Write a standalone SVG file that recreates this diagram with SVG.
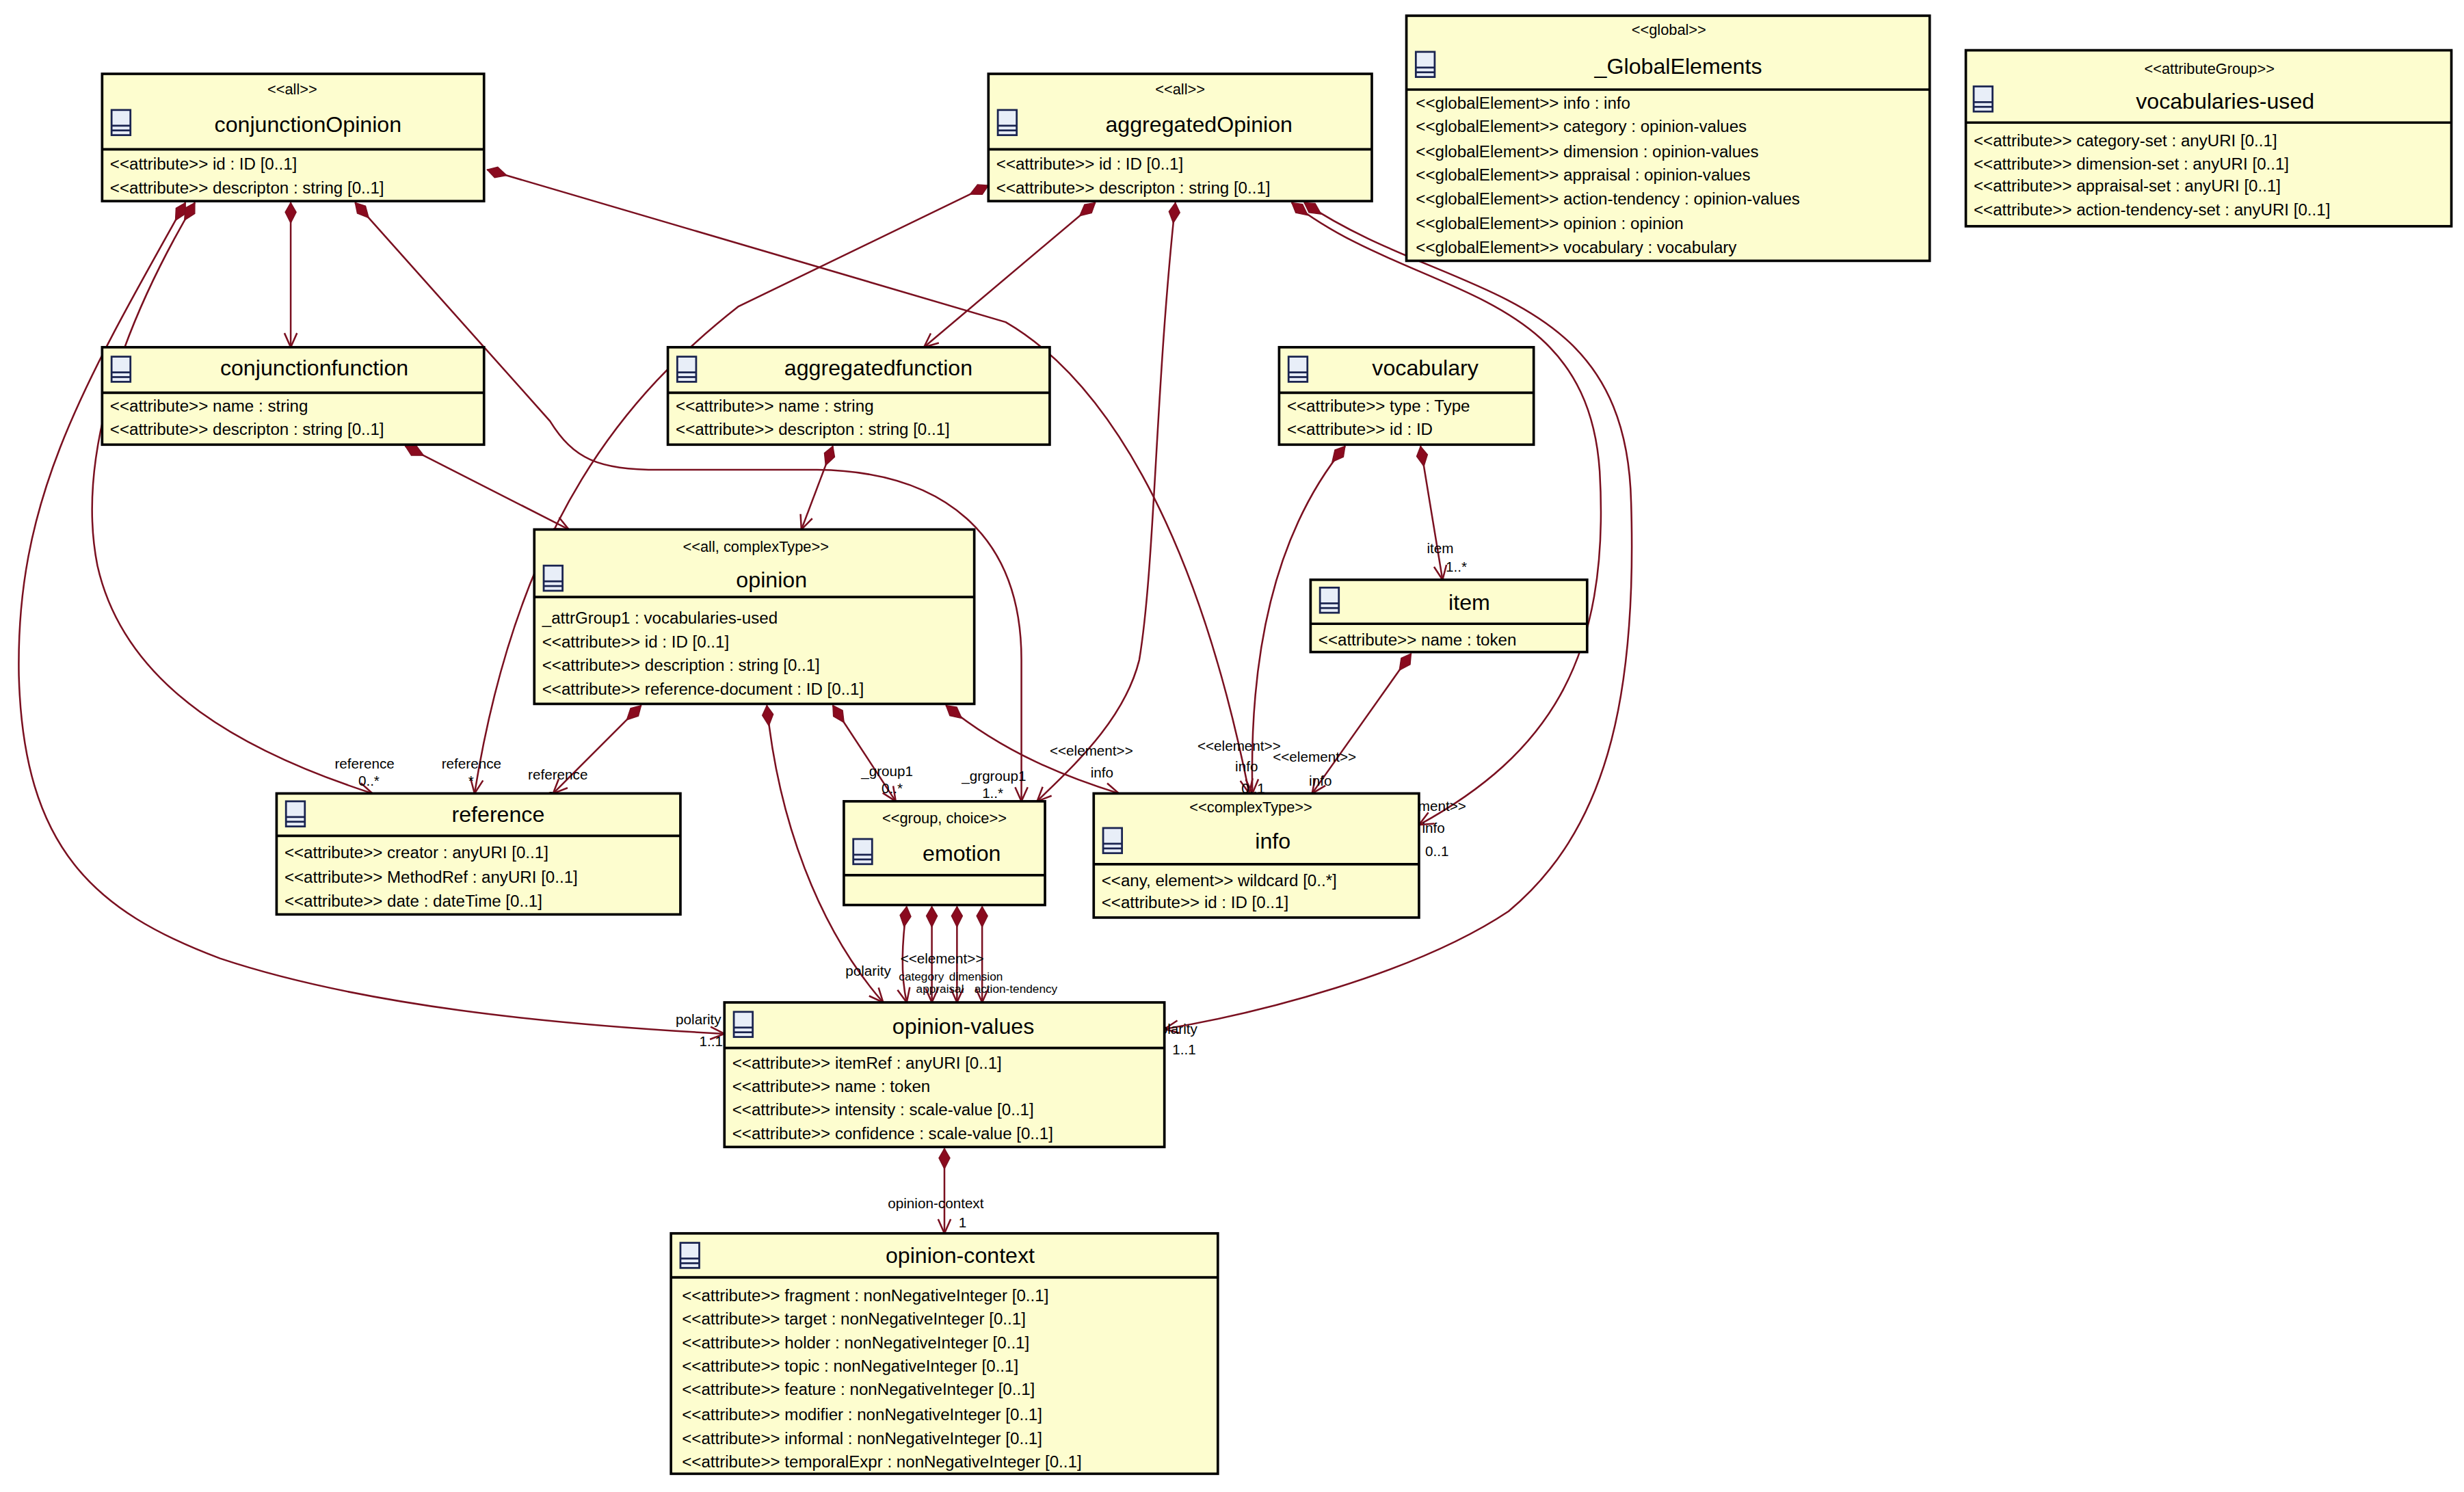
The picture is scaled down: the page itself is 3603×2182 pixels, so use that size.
<svg xmlns="http://www.w3.org/2000/svg" width="3603" height="2182" viewBox="0 0 3603 2182">
<defs>
<style>
.b{fill:#fdfdcf;stroke:#000;stroke-width:1.6}
.d{stroke:#000;stroke-width:1.6}
.ic{fill:#e8eef8;stroke:#1a2450;stroke-width:1.2}
text{font-family:"Liberation Sans",Arial,sans-serif;fill:#000}
.st{font-size:9.5px;text-anchor:middle}
.nm{font-size:14px;text-anchor:middle}
.at{font-size:10.5px}
.lb{font-size:9px}
.sm{font-size:7.5px}
.c{fill:none;stroke:#7a1020;stroke-width:1.1}
</style>
<marker id="dia" markerWidth="16" markerHeight="10" refX="1" refY="5" orient="auto" markerUnits="userSpaceOnUse"><path d="M1,5 L7,1.5 L14,5 L7,8.5 Z" fill="#8a0a1e" stroke="#7a1020" stroke-width="0.6"/></marker>
<marker id="arr" markerWidth="12" markerHeight="10" refX="10" refY="5" orient="auto" markerUnits="userSpaceOnUse"><path d="M1,1 L10,5 L1,9" fill="none" stroke="#7a1020" stroke-width="1.1"/></marker>
<g id="icon"><rect class="ic" x="0" y="0" width="12" height="16"/><line x1="0" y1="10" x2="12" y2="10" stroke="#1a2450" stroke-width="1.2"/><line x1="0" y1="13" x2="12" y2="13" stroke="#1a2450" stroke-width="1.2"/></g>
</defs>
<rect width="3603" height="2182" fill="#fff"/>
<g transform="scale(2.2978)">
<g id="connectors">
<path class="c" marker-start="url(#dia)" marker-end="url(#arr)" d="M185,129 L185,221"/>
<path class="c" marker-start="url(#dia)" marker-end="url(#arr)" d="M258,284 L362,337"/>
<path class="c" marker-start="url(#dia)" marker-end="url(#arr)" d="M697,129 L588,221"/>
<path class="c" marker-start="url(#dia)" marker-end="url(#arr)" d="M530,284 L510,337"/>
<path class="c" marker-start="url(#dia)" marker-end="url(#arr)" d="M118,129 C50,250 10,320 12,430 C15,540 60,580 140,610 C230,640 350,652 461,658"/>
<path class="c" marker-start="url(#dia)" marker-end="url(#arr)" d="M124,129 C70,220 50,300 62,360 C80,440 160,480 237,505"/>
<path class="c" marker-start="url(#dia)" marker-end="url(#arr)" d="M226,129 L350,268 C365,292 380,299 420,299 L520,299 C600,300 650,340 650,420 L650,510"/>
<path class="c" marker-start="url(#dia)" marker-end="url(#arr)" d="M310,108 L640,205 C700,240 760,330 795,505"/>
<path class="c" marker-start="url(#dia)" marker-end="url(#arr)" d="M629,118 L470,195 C400,250 330,330 302,505"/>
<path class="c" marker-start="url(#dia)" marker-end="url(#arr)" d="M748,129 C735,250 735,360 725,420 C715,460 680,490 660,510"/>
<path class="c" marker-start="url(#dia)" marker-end="url(#arr)" d="M822,129 C900,190 1010,180 1018,300 C1025,420 985,480 903,525"/>
<path class="c" marker-start="url(#dia)" marker-end="url(#arr)" d="M830,129 C920,190 1035,180 1038,320 C1042,450 1020,530 960,580 C900,620 800,645 741,655"/>
<path class="c" marker-start="url(#dia)" marker-end="url(#arr)" d="M904,284 L918,369"/>
<path class="c" marker-start="url(#dia)" marker-end="url(#arr)" d="M856,284 C810,340 795,420 797,505"/>
<path class="c" marker-start="url(#dia)" marker-end="url(#arr)" d="M898,416 L835,505"/>
<path class="c" marker-start="url(#dia)" marker-end="url(#arr)" d="M408,449 L352,505"/>
<path class="c" marker-start="url(#dia)" marker-end="url(#arr)" d="M488,449 C495,520 520,590 562,638"/>
<path class="c" marker-start="url(#dia)" marker-end="url(#arr)" d="M530,449 L570,510"/>
<path class="c" marker-start="url(#dia)" marker-end="url(#arr)" d="M602,449 C640,480 680,495 712,505"/>
<path class="c" marker-start="url(#dia)" marker-end="url(#arr)" d="M577,577 C574,600 573,620 577,638"/>
<path class="c" marker-start="url(#dia)" marker-end="url(#arr)" d="M593,577 L593,638"/>
<path class="c" marker-start="url(#dia)" marker-end="url(#arr)" d="M609,577 L609,638"/>
<path class="c" marker-start="url(#dia)" marker-end="url(#arr)" d="M625,577 L625,638"/>
<path class="c" marker-start="url(#dia)" marker-end="url(#arr)" d="M601,731 L601,785"/>
<g class="lb">
<text x="213" y="489">reference</text><text x="228" y="500">0..*</text>
<text x="281" y="489">reference</text><text x="298" y="500">*</text>
<text x="336" y="496">reference</text><text x="348" y="510">0..</text>
<text x="548" y="494">_group1</text><text x="561" y="505">0..*</text>
<text x="612" y="497">_grgroup1</text><text x="625" y="508">1..*</text>
<text x="668" y="481">&lt;&lt;element&gt;&gt;</text><text x="694" y="495">info</text><text x="697" y="512">0..1</text>
<text x="762" y="478">&lt;&lt;element&gt;&gt;</text><text x="786" y="491">info</text><text x="790" y="505">0..1</text>
<text x="810" y="485">&lt;&lt;element&gt;&gt;</text><text x="833" y="500">info</text>
<text x="880" y="516">&lt;&lt;element&gt;&gt;</text><text x="905" y="530">info</text><text x="907" y="545">0..1</text>
<text x="908" y="352">item</text><text x="920" y="364">1..*</text>
<text x="573" y="613">&lt;&lt;element&gt;&gt;</text>
<text x="538" y="621">polarity</text>
<text x="430" y="652">polarity</text><text x="445" y="666">1..1</text>
<text x="733" y="658">polarity</text><text x="746" y="671">1..1</text>
<text x="565" y="769">opinion-context</text><text x="610" y="781">1</text>
</g>
<g class="sm">
<text x="572" y="624">category</text><text x="604" y="624">dimension</text><text x="583" y="632">appraisal</text><text x="620" y="632">action-tendency</text>
<text x="574" y="646">1..1</text><text x="590" y="646">1..1</text><text x="606" y="646">1..1</text><text x="622" y="646">1..1</text>
</g>
</g>

<g id="conjunctionOpinion"><rect class="b" x="65" y="47" width="243" height="81"/><line class="d" x1="65" y1="95" x2="308" y2="95"/><use href="#icon" x="71" y="70"/><text class="st" x="186" y="60">&lt;&lt;all&gt;&gt;</text><text class="nm" x="196" y="84">conjunctionOpinion</text><text class="at" x="70" y="108">&lt;&lt;attribute&gt;&gt; id : ID [0..1]</text><text class="at" x="70" y="123">&lt;&lt;attribute&gt;&gt; descripton : string [0..1]</text></g>
<g id="aggregatedOpinion"><rect class="b" x="629" y="47" width="244" height="81"/><line class="d" x1="629" y1="95" x2="873" y2="95"/><use href="#icon" x="635" y="70"/><text class="st" x="751" y="60">&lt;&lt;all&gt;&gt;</text><text class="nm" x="763" y="84">aggregatedOpinion</text><text class="at" x="634" y="108">&lt;&lt;attribute&gt;&gt; id : ID [0..1]</text><text class="at" x="634" y="123">&lt;&lt;attribute&gt;&gt; descripton : string [0..1]</text></g>
<g id="GlobalElements"><rect class="b" x="895" y="10" width="333" height="156"/><line class="d" x1="895" y1="57" x2="1228" y2="57"/><use href="#icon" x="901" y="33"/><text class="st" x="1062" y="22">&lt;&lt;global&gt;&gt;</text><text class="nm" x="1068" y="47">_GlobalElements</text>
<text class="at" x="901" y="69">&lt;&lt;globalElement&gt;&gt; info : info</text><text class="at" x="901" y="84">&lt;&lt;globalElement&gt;&gt; category : opinion-values</text><text class="at" x="901" y="100">&lt;&lt;globalElement&gt;&gt; dimension : opinion-values</text><text class="at" x="901" y="115">&lt;&lt;globalElement&gt;&gt; appraisal : opinion-values</text><text class="at" x="901" y="130">&lt;&lt;globalElement&gt;&gt; action-tendency : opinion-values</text><text class="at" x="901" y="146">&lt;&lt;globalElement&gt;&gt; opinion : opinion</text><text class="at" x="901" y="161">&lt;&lt;globalElement&gt;&gt; vocabulary : vocabulary</text></g>
<g id="vocabularies-used"><rect class="b" x="1251" y="32" width="309" height="112"/><line class="d" x1="1251" y1="78" x2="1560" y2="78"/><use href="#icon" x="1256" y="55"/><text class="st" x="1406" y="47">&lt;&lt;attributeGroup&gt;&gt;</text><text class="nm" x="1416" y="69">vocabularies-used</text>
<text class="at" x="1256" y="93">&lt;&lt;attribute&gt;&gt; category-set : anyURI [0..1]</text><text class="at" x="1256" y="108">&lt;&lt;attribute&gt;&gt; dimension-set : anyURI [0..1]</text><text class="at" x="1256" y="122">&lt;&lt;attribute&gt;&gt; appraisal-set : anyURI [0..1]</text><text class="at" x="1256" y="137">&lt;&lt;attribute&gt;&gt; action-tendency-set : anyURI [0..1]</text></g>
<g id="conjunctionfunction"><rect class="b" x="65" y="221" width="243" height="62"/><line class="d" x1="65" y1="250" x2="308" y2="250"/><use href="#icon" x="71" y="227"/><text class="nm" x="200" y="239">conjunctionfunction</text><text class="at" x="70" y="262">&lt;&lt;attribute&gt;&gt; name : string</text><text class="at" x="70" y="277">&lt;&lt;attribute&gt;&gt; descripton : string [0..1]</text></g>
<g id="aggregatedfunction"><rect class="b" x="425" y="221" width="243" height="62"/><line class="d" x1="425" y1="250" x2="668" y2="250"/><use href="#icon" x="431" y="227"/><text class="nm" x="559" y="239">aggregatedfunction</text><text class="at" x="430" y="262">&lt;&lt;attribute&gt;&gt; name : string</text><text class="at" x="430" y="277">&lt;&lt;attribute&gt;&gt; descripton : string [0..1]</text></g>
<g id="vocabulary"><rect class="b" x="814" y="221" width="162" height="62"/><line class="d" x1="814" y1="250" x2="976" y2="250"/><use href="#icon" x="820" y="227"/><text class="nm" x="907" y="239">vocabulary</text><text class="at" x="819" y="262">&lt;&lt;attribute&gt;&gt; type : Type</text><text class="at" x="819" y="277">&lt;&lt;attribute&gt;&gt; id : ID</text></g>
<g id="opinion"><rect class="b" x="340" y="337" width="280" height="111"/><line class="d" x1="340" y1="380" x2="620" y2="380"/><use href="#icon" x="346" y="360"/><text class="st" x="481" y="351">&lt;&lt;all, complexType&gt;&gt;</text><text class="nm" x="491" y="374">opinion</text>
<text class="at" x="345" y="397">_attrGroup1 : vocabularies-used</text><text class="at" x="345" y="412">&lt;&lt;attribute&gt;&gt; id : ID [0..1]</text><text class="at" x="345" y="427">&lt;&lt;attribute&gt;&gt; description : string [0..1]</text><text class="at" x="345" y="442">&lt;&lt;attribute&gt;&gt; reference-document : ID [0..1]</text></g>
<g id="item"><rect class="b" x="834" y="369" width="176" height="46"/><line class="d" x1="834" y1="397" x2="1010" y2="397"/><use href="#icon" x="840" y="374"/><text class="nm" x="935" y="388">item</text><text class="at" x="839" y="411">&lt;&lt;attribute&gt;&gt; name : token</text></g>
<g id="reference"><rect class="b" x="176" y="505" width="257" height="77"/><line class="d" x1="176" y1="532" x2="433" y2="532"/><use href="#icon" x="182" y="510"/><text class="nm" x="317" y="523">reference</text><text class="at" x="181" y="546">&lt;&lt;attribute&gt;&gt; creator : anyURI [0..1]</text><text class="at" x="181" y="562">&lt;&lt;attribute&gt;&gt; MethodRef : anyURI [0..1]</text><text class="at" x="181" y="577">&lt;&lt;attribute&gt;&gt; date : dateTime [0..1]</text></g>
<g id="emotion"><rect class="b" x="537" y="510" width="128" height="66"/><line class="d" x1="537" y1="557" x2="665" y2="557"/><use href="#icon" x="543" y="534"/><text class="st" x="601" y="524">&lt;&lt;group, choice&gt;&gt;</text><text class="nm" x="612" y="548">emotion</text></g>
<g id="info"><rect class="b" x="696" y="505" width="207" height="79"/><line class="d" x1="696" y1="550" x2="903" y2="550"/><use href="#icon" x="702" y="527"/><text class="st" x="796" y="517">&lt;&lt;complexType&gt;&gt;</text><text class="nm" x="810" y="540">info</text><text class="at" x="701" y="564">&lt;&lt;any, element&gt;&gt; wildcard [0..*]</text><text class="at" x="701" y="578">&lt;&lt;attribute&gt;&gt; id : ID [0..1]</text></g>
<g id="opinion-values"><rect class="b" x="461" y="638" width="280" height="92"/><line class="d" x1="461" y1="667" x2="741" y2="667"/><use href="#icon" x="467" y="644"/><text class="nm" x="613" y="658">opinion-values</text>
<text class="at" x="466" y="680">&lt;&lt;attribute&gt;&gt; itemRef : anyURI [0..1]</text><text class="at" x="466" y="695">&lt;&lt;attribute&gt;&gt; name : token</text><text class="at" x="466" y="710">&lt;&lt;attribute&gt;&gt; intensity : scale-value [0..1]</text><text class="at" x="466" y="725">&lt;&lt;attribute&gt;&gt; confidence : scale-value [0..1]</text></g>
<g id="opinion-context"><rect class="b" x="427" y="785" width="348" height="153"/><line class="d" x1="427" y1="813" x2="775" y2="813"/><use href="#icon" x="433" y="791"/><text class="nm" x="611" y="804">opinion-context</text>
<text class="at" x="434" y="828">&lt;&lt;attribute&gt;&gt; fragment : nonNegativeInteger [0..1]</text><text class="at" x="434" y="843">&lt;&lt;attribute&gt;&gt; target : nonNegativeInteger [0..1]</text><text class="at" x="434" y="858">&lt;&lt;attribute&gt;&gt; holder : nonNegativeInteger [0..1]</text><text class="at" x="434" y="873">&lt;&lt;attribute&gt;&gt; topic : nonNegativeInteger [0..1]</text><text class="at" x="434" y="888">&lt;&lt;attribute&gt;&gt; feature : nonNegativeInteger [0..1]</text><text class="at" x="434" y="904">&lt;&lt;attribute&gt;&gt; modifier : nonNegativeInteger [0..1]</text><text class="at" x="434" y="919">&lt;&lt;attribute&gt;&gt; informal : nonNegativeInteger [0..1]</text><text class="at" x="434" y="934">&lt;&lt;attribute&gt;&gt; temporalExpr : nonNegativeInteger [0..1]</text></g>
</g>
</svg>
